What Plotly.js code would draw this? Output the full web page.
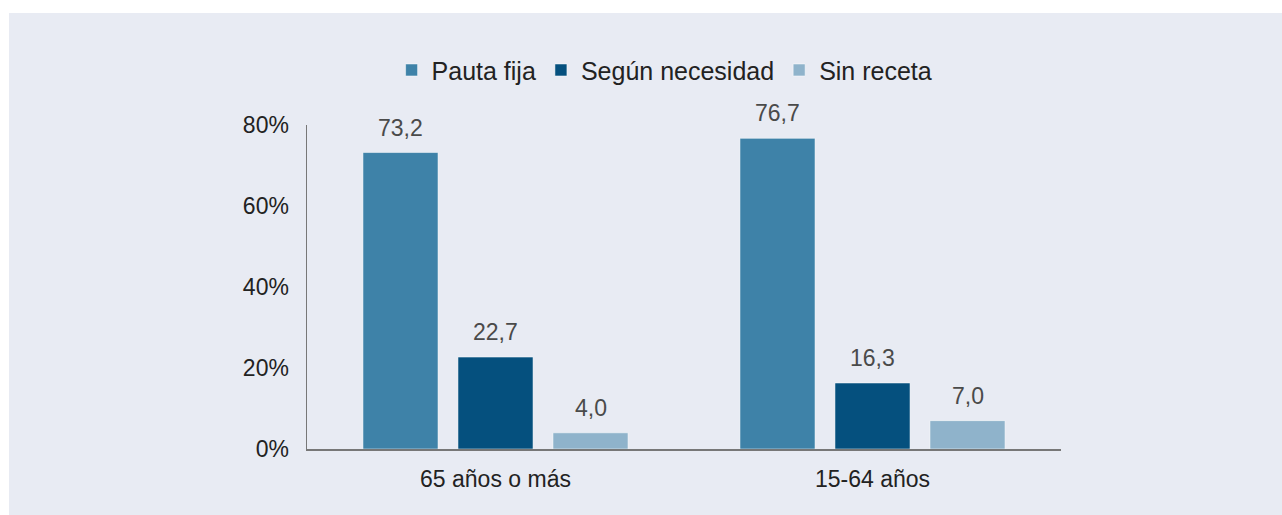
<!DOCTYPE html>
<html>
<head>
<meta charset="utf-8">
<script src="https://cdn.plot.ly/plotly-3.0.1.min.js"></script>
<style>
html,body{margin:0;padding:0;background:#ffffff;}
#chart{position:absolute;left:9px;top:13px;width:1273px;height:502px;}
</style>
</head>
<body>
<div id="chart"></div>
<script>
const categories = ["65 años o más", "15-64 años"];
const seriesNames = ["Pauta fija", "Según necesidad", "Sin receta"];
const pautaFija = [73.2, 76.7];
const segunNecesidad = [22.7, 16.3];
const sinReceta = [4.0, 7.0];
const yTickVals = [0, 20, 40, 60, 80];
const yTickText = yTickVals.map(v => v + "%");

const colors = ["#3E82A8", "#05507E", "#8FB3CB"];
const values = [pautaFija, segunNecesidad, sinReceta];
const font = "Liberation Sans, Arial, sans-serif";
const slotPx = 95;

const traces = values.map((v, i) => ({
  type: "bar",
  name: seriesNames[i],
  x: categories,
  y: v,
  marker: {color: colors[i], line: {color: "rgba(255,255,255,0.5)", width: 1}},
  hoverinfo: "none"
}));

const annotations = [];
values.forEach((v, i) => {
  v.forEach((val, j) => {
    annotations.push({
      x: categories[j],
      y: val,
      xref: "x", yref: "y",
      text: val.toFixed(1).replace(".", ","),
      showarrow: false,
      xshift: (i - 1) * slotPx,
      yshift: 25,
      yanchor: "middle",
      font: {family: font, size: 23, color: "#4a4a4a"}
    });
  });
});

const layout = {
  width: 1273,
  height: 502,
  paper_bgcolor: "#E8EBF3",
  plot_bgcolor: "#E8EBF3",
  separators: ",.",
  margin: {l: 298, r: 221, t: 112, b: 66, autoexpand: false},
  barmode: "group",
  bargap: 0.244,
  bargroupgap: 0.21,
  font: {family: font, size: 23, color: "#222"},
  showlegend: true,
  annotations: annotations,
  legend: {
    orientation: "h",
    xref: "container", yref: "container",
    x: 0.515, xanchor: "center",
    y: 0.886, yanchor: "middle",
    font: {family: font, size: 25, color: "#222"},
    bgcolor: "rgba(0,0,0,0)",
    itemclick: false
  },
  xaxis: {
    type: "category",
    showline: true,
    linecolor: "#777",
    linewidth: 1.5,
    ticks: "",
    ticklabelstandoff: 9,
    tickfont: {family: font, size: 23, color: "#222"},
    showgrid: false,
    zeroline: false
  },
  yaxis: {
    range: [0, 80],
    tickmode: "array",
    tickvals: yTickVals,
    ticktext: yTickText,
    showline: true,
    linecolor: "#777",
    linewidth: 1.5,
    ticks: "",
    ticklabelstandoff: 12,
    tickfont: {family: font, size: 23, color: "#222"},
    showgrid: false,
    zeroline: false
  }
};

Plotly.newPlot("chart", traces, layout, {displayModeBar: false, staticPlot: true});
</script>
</body>
</html>
